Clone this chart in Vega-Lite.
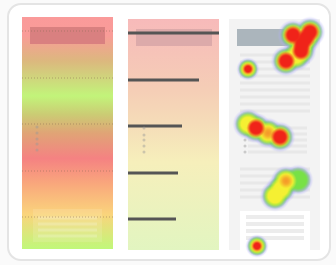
{
  "$schema": "https://vega.github.io/schema/vega-lite/v6.json",
  "width": 336,
  "height": 265,
  "padding": 0,
  "autosize": {"type": "none"},
  "background": "#fafafa",
  "config": {"view": {"stroke": null}},
  "datasets": {
    "card": [{"x": 8, "x2": 330, "y": 4, "y2": 260}],
    "p1": [{"x": 22, "x2": 113, "y": 17, "y2": 249}],
    "p2": [{"x": 128, "x2": 219, "y": 19, "y2": 250}],
    "p3": [{"x": 229, "x2": 320, "y": 19, "y2": 250}],
    "p1top": [{"x": 30, "x2": 105, "y": 27, "y2": 44}],
    "p2top": [{"x": 136, "x2": 212, "y": 29, "y2": 46}],
    "p3top": [{"x": 237, "x2": 292, "y": 29, "y2": 46}],
    "p1bottom": [{"x": 33, "x2": 102, "y": 209, "y2": 242}],
    "p3box": [{"x": 240, "x2": 310, "y": 211, "y2": 250}],
    "dotted": [
      {"x": 22, "x2": 113, "y": 31},
      {"x": 22, "x2": 113, "y": 78},
      {"x": 22, "x2": 113, "y": 124},
      {"x": 22, "x2": 113, "y": 171},
      {"x": 22, "x2": 113, "y": 217}
    ],
    "bars": [
      {"x": 128, "x2": 219, "y": 33},
      {"x": 128, "x2": 199, "y": 80},
      {"x": 128, "x2": 182, "y": 126},
      {"x": 128, "x2": 178, "y": 173},
      {"x": 128, "x2": 176, "y": 219}
    ],
    "rows": [
      {"x": 240, "x2": 310, "y": 55}, {"x": 240, "x2": 310, "y": 62}, {"x": 240, "x2": 310, "y": 69},
      {"x": 240, "x2": 310, "y": 76}, {"x": 240, "x2": 310, "y": 83}, {"x": 240, "x2": 310, "y": 90},
      {"x": 240, "x2": 310, "y": 97}, {"x": 240, "x2": 310, "y": 104}, {"x": 240, "x2": 310, "y": 111},
      {"x": 248, "x2": 307, "y": 128}, {"x": 248, "x2": 307, "y": 134}, {"x": 248, "x2": 307, "y": 140},
      {"x": 248, "x2": 307, "y": 146}, {"x": 248, "x2": 307, "y": 152},
      {"x": 240, "x2": 310, "y": 169}, {"x": 240, "x2": 310, "y": 176}, {"x": 240, "x2": 310, "y": 183},
      {"x": 240, "x2": 310, "y": 190}, {"x": 240, "x2": 310, "y": 197}
    ],
    "boxrows": [
      {"x": 246, "x2": 304, "y": 217}, {"x": 246, "x2": 304, "y": 224},
      {"x": 246, "x2": 304, "y": 231}, {"x": 246, "x2": 304, "y": 238}
    ],
    "p1rows": [
      {"x": 38, "x2": 97, "y": 218}, {"x": 38, "x2": 97, "y": 224},
      {"x": 38, "x2": 97, "y": 230}, {"x": 38, "x2": 97, "y": 236}
    ],
    "dots": [
      {"x": 37, "y": 127}, {"x": 37, "y": 133}, {"x": 37, "y": 139}, {"x": 37, "y": 144}, {"x": 37, "y": 150},
      {"x": 144, "y": 128}, {"x": 144, "y": 135}, {"x": 144, "y": 140}, {"x": 144, "y": 146}, {"x": 144, "y": 152},
      {"x": 245, "y": 134}, {"x": 245, "y": 140}, {"x": 245, "y": 146}, {"x": 245, "y": 152}
    ],
    "blobs": [
      {"x": 293, "y": 35, "heat": 4},
      {"x": 310, "y": 32, "heat": 4},
      {"x": 306, "y": 38, "heat": 4},
      {"x": 302, "y": 44, "heat": 4},
      {"x": 301, "y": 51, "heat": 4},
      {"x": 296, "y": 56, "heat": 3},
      {"x": 286, "y": 61, "heat": 4},
      {"x": 248, "y": 124, "heat": 2.5},
      {"x": 256, "y": 128, "heat": 4},
      {"x": 268, "y": 133, "heat": 3.5},
      {"x": 280, "y": 137, "heat": 4},
      {"x": 286, "y": 181, "heat": 3.2},
      {"x": 298, "y": 180, "heat": 2},
      {"x": 281, "y": 189, "heat": 2.5},
      {"x": 275, "y": 196, "heat": 2.5}
    ],
    "spots": [
      {"x": 248, "y": 69},
      {"x": 257, "y": 246}
    ]
  },
  "encoding": {
    "x": {"field": "x", "type": "quantitative", "scale": {"domain": [0, 336], "nice": false, "zero": false}, "axis": null},
    "y": {"field": "y", "type": "quantitative", "scale": {"domain": [0, 265], "nice": false, "zero": false, "reverse": true}, "axis": null}
  },
  "layer": [
    {
      "data": {"name": "card"},
      "mark": {"type": "rect", "fill": "#ffffff", "stroke": "#e4e4e4", "strokeWidth": 2, "cornerRadius": 13},
      "encoding": {"x2": {"field": "x2"}, "y2": {"field": "y2"}}
    },
    {
      "data": {"name": "p1"},
      "mark": {"type": "rect", "fill": {"gradient": "linear", "x1": 0, "y1": 0, "x2": 0, "y2": 1, "stops": [
        {"offset": 0, "color": "#fa9a9a"},
        {"offset": 0.08, "color": "#f99c98"},
        {"offset": 0.19, "color": "#dcb87e"},
        {"offset": 0.34, "color": "#c2f47a"},
        {"offset": 0.42, "color": "#cbcc74"},
        {"offset": 0.5, "color": "#e0a476"},
        {"offset": 0.61, "color": "#f58282"},
        {"offset": 0.72, "color": "#f9a87c"},
        {"offset": 0.85, "color": "#fad47c"},
        {"offset": 1, "color": "#c0f87a"}
      ]}},
      "encoding": {"x2": {"field": "x2"}, "y2": {"field": "y2"}}
    },
    {
      "data": {"name": "p2"},
      "mark": {"type": "rect", "fill": {"gradient": "linear", "x1": 0, "y1": 0, "x2": 0, "y2": 1, "stops": [
        {"offset": 0, "color": "#f7baba"},
        {"offset": 0.3, "color": "#f5cdb6"},
        {"offset": 0.45, "color": "#f5dcb8"},
        {"offset": 0.62, "color": "#f6efbb"},
        {"offset": 1, "color": "#e2f5c0"}
      ]}},
      "encoding": {"x2": {"field": "x2"}, "y2": {"field": "y2"}}
    },
    {
      "data": {"name": "p3"},
      "mark": {"type": "rect", "fill": "#f3f3f3"},
      "encoding": {"x2": {"field": "x2"}, "y2": {"field": "y2"}}
    },
    {
      "data": {"name": "p1top"},
      "mark": {"type": "rect", "fill": "#d98080"},
      "encoding": {"x2": {"field": "x2"}, "y2": {"field": "y2"}}
    },
    {
      "data": {"name": "p2top"},
      "mark": {"type": "rect", "fill": "#dcaaaa"},
      "encoding": {"x2": {"field": "x2"}, "y2": {"field": "y2"}}
    },
    {
      "data": {"name": "p3top"},
      "mark": {"type": "rect", "fill": "#abb5bc"},
      "encoding": {"x2": {"field": "x2"}, "y2": {"field": "y2"}}
    },
    {
      "data": {"name": "p1bottom"},
      "mark": {"type": "rect", "fill": "#ffffff", "opacity": 0.12},
      "encoding": {"x2": {"field": "x2"}, "y2": {"field": "y2"}}
    },
    {
      "data": {"name": "p1rows"},
      "mark": {"type": "rule", "stroke": "#ffffff", "strokeWidth": 3, "opacity": 0.2},
      "encoding": {"x2": {"field": "x2"}}
    },
    {
      "data": {"name": "p3box"},
      "mark": {"type": "rect", "fill": "#ffffff"},
      "encoding": {"x2": {"field": "x2"}, "y2": {"field": "y2"}}
    },
    {
      "data": {"name": "rows"},
      "mark": {"type": "rule", "stroke": "#e8e8e8", "strokeWidth": 3},
      "encoding": {"x2": {"field": "x2"}}
    },
    {
      "data": {"name": "boxrows"},
      "mark": {"type": "rule", "stroke": "#ececec", "strokeWidth": 4},
      "encoding": {"x2": {"field": "x2"}}
    },
    {
      "data": {"name": "dotted"},
      "mark": {"type": "rule", "stroke": "#8a6a50", "strokeWidth": 1, "strokeDash": [1, 2], "opacity": 0.5},
      "encoding": {"x2": {"field": "x2"}}
    },
    {
      "data": {"name": "bars"},
      "mark": {"type": "rule", "stroke": "#555555", "strokeWidth": 3},
      "encoding": {"x2": {"field": "x2"}}
    },
    {
      "data": {"name": "dots"},
      "mark": {"type": "circle", "size": 9, "color": "#999999", "opacity": 0.45}
    },
    {
      "data": {"name": "blobs"},
      "mark": {"type": "circle", "size": 950, "opacity": 1, "strokeWidth": 0, "fill": {"gradient": "radial", "x1": 0.5, "y1": 0.5, "r1": 0, "x2": 0.5, "y2": 0.5, "r2": 0.5, "stops": [
        {"offset": 0, "color": "rgba(150,150,240,0.9)"},
        {"offset": 0.7, "color": "rgba(150,150,240,0.75)"},
        {"offset": 1, "color": "rgba(190,190,250,0)"}
      ]}}
    },
    {
      "data": {"name": "spots"},
      "mark": {"type": "circle", "size": 540, "opacity": 1, "strokeWidth": 0, "fill": {"gradient": "radial", "x1": 0.5, "y1": 0.5, "r1": 0, "x2": 0.5, "y2": 0.5, "r2": 0.5, "stops": [
        {"offset": 0, "color": "rgba(150,150,240,0.9)"},
        {"offset": 0.7, "color": "rgba(150,150,240,0.75)"},
        {"offset": 1, "color": "rgba(190,190,250,0)"}
      ]}}
    },
    {
      "data": {"name": "blobs"},
      "transform": [{"filter": "datum.heat >= 2"}],
      "mark": {"type": "circle", "size": 680, "opacity": 1, "strokeWidth": 0, "fill": {"gradient": "radial", "x1": 0.5, "y1": 0.5, "r1": 0, "x2": 0.5, "y2": 0.5, "r2": 0.5, "stops": [
        {"offset": 0, "color": "rgba(120,225,70,1)"},
        {"offset": 0.65, "color": "rgba(120,225,70,1)"},
        {"offset": 1, "color": "rgba(120,225,70,0)"}
      ]}}
    },
    {
      "data": {"name": "spots"},
      "mark": {"type": "circle", "size": 390, "opacity": 1, "strokeWidth": 0, "fill": {"gradient": "radial", "x1": 0.5, "y1": 0.5, "r1": 0, "x2": 0.5, "y2": 0.5, "r2": 0.5, "stops": [
        {"offset": 0, "color": "rgba(120,225,70,1)"},
        {"offset": 0.65, "color": "rgba(120,225,70,1)"},
        {"offset": 1, "color": "rgba(120,225,70,0)"}
      ]}}
    },
    {
      "data": {"name": "blobs"},
      "transform": [{"filter": "datum.heat >= 2.5"}],
      "mark": {"type": "circle", "size": 470, "opacity": 1, "strokeWidth": 0, "fill": {"gradient": "radial", "x1": 0.5, "y1": 0.5, "r1": 0, "x2": 0.5, "y2": 0.5, "r2": 0.5, "stops": [
        {"offset": 0, "color": "rgba(245,240,50,1)"},
        {"offset": 0.62, "color": "rgba(245,240,50,1)"},
        {"offset": 1, "color": "rgba(245,240,50,0)"}
      ]}}
    },
    {
      "data": {"name": "spots"},
      "mark": {"type": "circle", "size": 260, "opacity": 1, "strokeWidth": 0, "fill": {"gradient": "radial", "x1": 0.5, "y1": 0.5, "r1": 0, "x2": 0.5, "y2": 0.5, "r2": 0.5, "stops": [
        {"offset": 0, "color": "rgba(245,240,50,1)"},
        {"offset": 0.62, "color": "rgba(245,240,50,1)"},
        {"offset": 1, "color": "rgba(245,240,50,0)"}
      ]}}
    },
    {
      "data": {"name": "blobs"},
      "transform": [{"filter": "datum.heat >= 3.2"}],
      "mark": {"type": "circle", "size": 220, "opacity": 1, "strokeWidth": 0, "fill": {"gradient": "radial", "x1": 0.5, "y1": 0.5, "r1": 0, "x2": 0.5, "y2": 0.5, "r2": 0.5, "stops": [
        {"offset": 0, "color": "rgba(245,150,40,1)"},
        {"offset": 0.4, "color": "rgba(245,150,40,0.8)"},
        {"offset": 1, "color": "rgba(245,150,40,0)"}
      ]}}
    },
    {
      "data": {"name": "blobs"},
      "transform": [{"filter": "datum.heat >= 4"}],
      "mark": {"type": "circle", "size": 360, "opacity": 1, "strokeWidth": 0, "fill": {"gradient": "radial", "x1": 0.5, "y1": 0.5, "r1": 0, "x2": 0.5, "y2": 0.5, "r2": 0.5, "stops": [
        {"offset": 0, "color": "rgba(240,35,25,1)"},
        {"offset": 0.6, "color": "rgba(240,35,25,1)"},
        {"offset": 1, "color": "rgba(240,35,25,0)"}
      ]}}
    },
    {
      "data": {"name": "spots"},
      "mark": {"type": "circle", "size": 160, "opacity": 1, "strokeWidth": 0, "fill": {"gradient": "radial", "x1": 0.5, "y1": 0.5, "r1": 0, "x2": 0.5, "y2": 0.5, "r2": 0.5, "stops": [
        {"offset": 0, "color": "rgba(240,35,25,1)"},
        {"offset": 0.5, "color": "rgba(240,35,25,1)"},
        {"offset": 1, "color": "rgba(245,150,40,0)"}
      ]}}
    }
  ]
}
